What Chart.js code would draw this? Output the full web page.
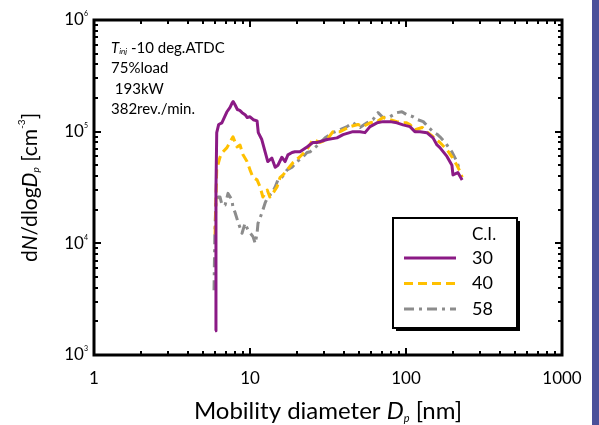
<!DOCTYPE html>
<html lang="en">
<head>
<meta charset="UTF-8">
<title>Particle size distribution</title>
<script src="https://cdnjs.cloudflare.com/ajax/libs/Chart.js/4.4.1/chart.umd.min.js"></script>
<style>
  html, body { margin: 0; padding: 0; background: #fff; }
</style>
</head>
<body>
<canvas id="psd" width="599" height="425"></canvas>
<script>
// mobility diameter [nm] and dN/dlogDp [cm-3] for each C.I.
const d30 = [5.97, 6.05, 6.12, 6.3, 6.6, 7.1, 7.45, 7.7, 7.8, 8.0, 8.3, 8.6, 8.9, 9.3, 9.6, 10.0, 10.5, 11.1, 11.3, 11.9,
  12.5, 13.0, 13.8, 14.5, 15.1, 16.0, 16.8, 17.5, 18.6, 19.4, 20.9, 23.2, 25.3, 26.9, 31.2, 36.1, 39.5, 45.7, 50.7, 54.6,
  58.8, 65.2, 71.2, 78.9, 87.5, 95.7, 106, 114, 123, 136, 149, 158, 165, 183, 197, 200, 215, 229];
const n30 = [1650, 30000, 98000, 116000, 120000, 150000, 165000, 182000, 186000, 175000, 158000, 155000, 148000, 142000, 134000, 136000, 128000, 125000, 98000, 85000,
  66000, 54000, 58000, 48000, 50000, 59000, 54000, 62000, 65000, 66000, 66000, 73000, 80000, 80000, 85000, 88000, 94000, 100000, 100000, 98000,
  111000, 120000, 123000, 123000, 120000, 115000, 111000, 100000, 100000, 98000, 88000, 76000, 72000, 60000, 50000, 41000, 43000, 37000];

const d40 = [5.97, 6.05, 6.12, 6.42, 6.71, 7.12, 7.45, 7.78, 8.26, 8.63, 9.02, 9.57, 10.0, 10.45, 11.1, 11.6, 12.1, 12.9, 13.4, 14.0,
  14.9, 15.6, 16.3, 17.3, 18.9, 20.9, 23.2, 25.3, 28.1, 31.2, 34.0, 37.8, 43.8, 49.2, 53.0, 58.8, 65.2, 71.2, 78.9, 87.5,
  94.2, 101, 106, 114, 127, 136, 149, 165, 183, 197, 212, 222, 229];
const n40 = [12000, 25000, 46000, 59000, 66000, 72000, 81000, 90000, 73000, 76000, 62000, 54000, 45500, 39000, 37000, 32000, 26000, 30000, 26000, 28000,
  32000, 39000, 41000, 45500, 53000, 59600, 69000, 85000, 80000, 85000, 100000, 100000, 111000, 116000, 111000, 120000, 123000, 134000, 128000, 123000,
  120000, 120000, 116000, 104000, 109000, 100000, 90000, 80000, 69000, 59600, 50000, 44000, 39000];

const d58 = [5.88, 5.95, 6.05, 6.24, 6.42, 6.62, 6.92, 7.23, 7.67, 7.78, 8.01, 8.38, 8.89, 9.29, 9.71, 10.45, 10.8, 11.1, 11.25, 11.9,
  12.5, 13.0, 13.8, 14.5, 15.1, 16.0, 17.3, 18.6, 20.0, 21.5, 23.2, 24.3, 27.3, 30.3, 34.0, 37.8, 41.9, 45.7, 50.7, 56.2,
  61.4, 66.2, 71.2, 78.9, 87.5, 94.2, 101, 111, 119, 129, 138, 149, 158, 165, 178, 183, 197, 212, 222];
const n58 = [3800, 12000, 24400, 26000, 26000, 22000, 22000, 28000, 24400, 20700, 19000, 15500, 12300, 15100, 13100, 11500, 10000, 12300, 15100, 18600,
  23000, 26000, 28000, 32000, 37000, 39000, 45500, 48000, 54000, 58000, 65000, 66000, 76000, 88000, 98000, 104000, 111000, 120000, 109000, 120000,
  128000, 148000, 134000, 136000, 148000, 151000, 142000, 136000, 128000, 123000, 111000, 100000, 95000, 90000, 80000, 76000, 66000, 54000, 44000];

const ciLabels = ['30', '40', '58'];
const xTickValues = [1, 10, 100, 1000];
const yExponents = [3, 4, 5, 6];
const conditionLines = ['-10 deg.ATDC', '75%load', ' 193kW', '382rev./min.'];

const FONT = 'Lato, "Open Sans", sans-serif';

function pts(xs, ys) {
  return xs.map((v, i) => ({x: v, y: ys[i]}));
}

// draw a row of mixed-style text pieces: [text, size, italic, dy]
function richText(ctx, parts, x, y, align) {
  let w = 0;
  parts.forEach(p => {
    ctx.font = (p[2] ? 'italic ' : '') + p[1] + 'px ' + FONT;
    w += ctx.measureText(p[0]).width;
  });
  let cx = align === 'center' ? x - w / 2 : (align === 'right' ? x - w : x);
  ctx.textAlign = 'left';
  ctx.textBaseline = 'middle';
  parts.forEach(p => {
    ctx.font = (p[2] ? 'italic ' : '') + p[1] + 'px ' + FONT;
    ctx.fillText(p[0], cx, y + (p[3] || 0));
    cx += ctx.measureText(p[0]).width;
  });
}

function logSteps(min, max) {
  const out = [];
  for (let e = Math.round(Math.log10(min)); e < Math.round(Math.log10(max)); e++) {
    for (let m = 1; m < 10; m++) out.push({v: m * Math.pow(10, e), major: m === 1});
  }
  out.push({v: max, major: true});
  return out;
}

const sideBar = {
  id: 'sideBar',
  beforeDraw(chart) {
    const ctx = chart.ctx;
    ctx.save();
    ctx.fillStyle = '#4b509a';
    ctx.fillRect(592, 0, 7, chart.height);
    ctx.restore();
  }
};

const frame = {
  id: 'frame',
  afterDraw(chart) {
    const {ctx, chartArea: {left, right, top, bottom}, scales: {x, y}} = chart;
    ctx.save();
    ctx.strokeStyle = '#000';
    ctx.lineWidth = 2;
    // inward ticks on all four sides
    logSteps(x.min, x.max).forEach(t => {
      const px = Math.round(x.getPixelForValue(t.v));
      const len = t.major ? 7 : 4;
      ctx.beginPath();
      ctx.moveTo(px, bottom); ctx.lineTo(px, bottom - len);
      ctx.moveTo(px, top); ctx.lineTo(px, top + len);
      ctx.stroke();
    });
    logSteps(y.min, y.max).forEach(t => {
      const py = Math.round(y.getPixelForValue(t.v));
      const len = t.major ? 7 : 4;
      ctx.beginPath();
      ctx.moveTo(left, py); ctx.lineTo(left + len, py);
      ctx.moveTo(right, py); ctx.lineTo(right - len, py);
      ctx.stroke();
    });
    ctx.lineWidth = 3;
    ctx.strokeRect(left, top, right - left, bottom - top);

    ctx.fillStyle = '#000';
    // y tick labels as powers of ten
    yExponents.forEach(e => {
      const py = y.getPixelForValue(Math.pow(10, e));
      richText(ctx, [['10', 17, false, 0], [String(e), 7, false, -6]], left - 6, py, 'right');
    });

    // axis titles
    richText(ctx, [['Mobility diameter ', 24, false, 0], ['D', 24, true, 0], ['p', 11, true, 7], [' [nm]', 24, false, 0]],
      (left + right) / 2, 411, 'center');
    ctx.save();
    ctx.translate(30, (top + bottom) / 2);
    ctx.rotate(-Math.PI / 2);
    richText(ctx, [['d', 21, false, 0], ['N', 21, true, 0], ['/dlog', 21, false, 0], ['D', 21, true, 0], ['p', 10, true, 6],
      [' [cm', 21, false, 0], ['-3', 10, false, -8], [']', 21, false, 0]], 0, 0, 'center');
    ctx.restore();

    // operating conditions
    richText(ctx, [['T', 15, true, 0], ['inj', 8, true, 3], [' ' + conditionLines[0], 15, false, 0]], 111, 48);
    for (let i = 1; i < conditionLines.length; i++) {
      richText(ctx, [[conditionLines[i], 15, false, 0]], 111, 48 + i * 20.5);
    }

    // legend box with shadow
    const bx = 393, by = 218, bw = 124, bh = 110;
    ctx.fillStyle = '#000';
    ctx.fillRect(bx + 3, by + 3, bw, bh);
    ctx.fillStyle = '#fff';
    ctx.fillRect(bx, by, bw, bh);
    ctx.lineWidth = 2;
    ctx.strokeRect(bx, by, bw, bh);
    ctx.fillStyle = '#000';
    richText(ctx, [['C.I.', 17, false, 0]], 472, 235);
    chart.data.datasets.forEach((ds, i) => {
      const ly = 258 + i * 25.5;
      ctx.strokeStyle = ds.borderColor;
      ctx.lineWidth = ds.borderWidth;
      ctx.setLineDash(ds.borderDash || []);
      ctx.beginPath();
      ctx.moveTo(404, ly); ctx.lineTo(456, ly);
      ctx.stroke();
      ctx.setLineDash([]);
      richText(ctx, [[ciLabels[i], 18, false, 0]], 472, ly);
    });
    ctx.restore();
  }
};

new Chart(document.getElementById('psd'), {
  type: 'line',
  data: {
    datasets: [
      {label: ciLabels[0], data: pts(d30, n30), borderColor: '#8b1a85', borderWidth: 3},
      {label: ciLabels[1], data: pts(d40, n40), borderColor: '#ffc000', borderWidth: 3, borderDash: [9, 5]},
      {label: ciLabels[2], data: pts(d58, n58), borderColor: '#8c8c8c', borderWidth: 3, borderDash: [10, 5, 3, 5]}
    ]
  },
  plugins: [sideBar, frame],
  options: {
    responsive: false,
    animation: false,
    events: [],
    layout: {padding: {top: 20, right: 37, left: 0, bottom: 0}},
    elements: {point: {radius: 0}, line: {tension: 0, borderJoinStyle: 'round'}},
    scales: {
      x: {
        type: 'logarithmic',
        min: 1,
        max: 1000,
        grid: {display: false, drawTicks: false},
        border: {display: false},
        afterBuildTicks: axis => { axis.ticks = xTickValues.map(v => ({value: v})); },
        afterFit: axis => { axis.height = 70; },
        ticks: {
          color: '#000',
          padding: 13,
          maxRotation: 0,
          autoSkip: false,
          font: {family: FONT, size: 17},
          callback: v => String(v)
        }
      },
      y: {
        type: 'logarithmic',
        min: 1000,
        max: 1000000,
        grid: {display: false, drawTicks: false},
        border: {display: false},
        afterFit: axis => { axis.width = 94; },
        ticks: {display: false}
      }
    },
    plugins: {
      legend: {display: false},
      tooltip: {enabled: false}
    }
  }
});
</script>
</body>
</html>
